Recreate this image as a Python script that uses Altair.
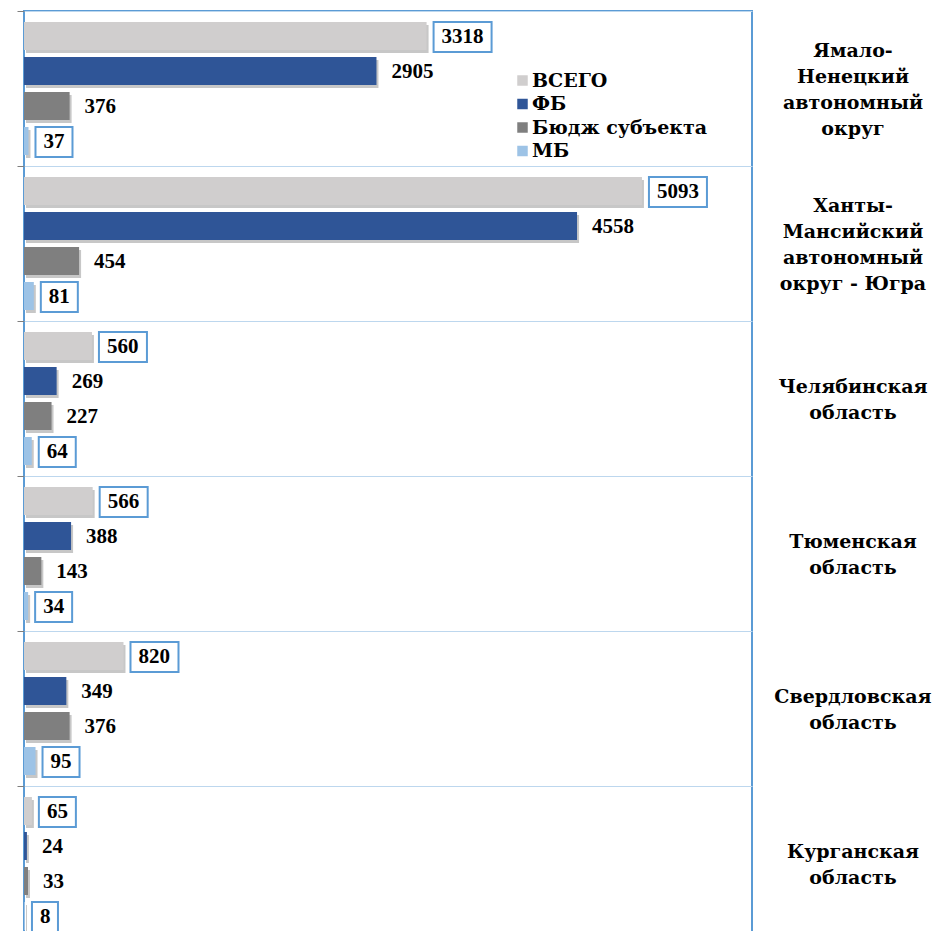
import altair as alt
import pandas as pd

regions = ["Ямало-Ненецкий автономный округ", "Ханты-Мансийский автономный округ - Югра",
           "Челябинская область", "Тюменская область", "Свердловская область", "Курганская область"]
region_labels = ["Ямало-\nНенецкий\nавтономный\nокруг", "Ханты-\nМансийский\nавтономный\nокруг - Югра",
                 "Челябинская\nобласть", "Тюменская\nобласть", "Свердловская\nобласть", "Курганская\nобласть"]
series = ["ВСЕГО", "ФБ", "Бюдж субъекта", "МБ"]
colors = ["#D0CECE", "#2F5597", "#7F7F7F", "#9DC3E6"]
vsego = [3318, 5093, 560, 566, 820, 65]
fb = [2905, 4558, 269, 388, 349, 24]
budg = [376, 454, 227, 143, 376, 33]
mb = [37, 81, 64, 34, 95, 8]
boxed = ["ВСЕГО", "МБ"]

rows = []
for i, r in enumerate(regions):
    for s, vals in zip(series, [vsego, fb, budg, mb]):
        v = vals[i]
        n = len(str(v))
        w = round(16 + 10.5 * n)
        rows.append({"region": r, "series": s, "value": v,
                     "box": f"M7,-14H{7 + w}V16H7Z", "boxed": s in boxed})
df = pd.DataFrame(rows)
lab_df = pd.DataFrame({"region": regions, "label": region_labels,
                       "lines": [l.count("\n") + 1 for l in region_labels]})

W, H = 728, 930
font = "Liberation Serif, Times New Roman, serif"
wide_font = "DejaVu Serif, serif"

xs = alt.Scale(domain=[0, 6000], range=[0, W], nice=False, zero=True)
ys = alt.Scale(domain=regions, paddingInner=0, paddingOuter=0, range=[0, H])
yos = alt.Scale(domain=series, paddingInner=0.2, paddingOuter=0.314)
xs_sh = alt.Scale(domain=[0, 6000], range=[2, W + 2], nice=False, zero=True)
ys_sh = alt.Scale(domain=regions, paddingInner=0, paddingOuter=0, range=[3, H + 3])

base = alt.Chart(df)

shadow = base.mark_bar(color="#000000", opacity=0.22).encode(
    x=alt.X("value:Q", scale=xs_sh, axis=None),
    y=alt.Y("region:N", scale=ys_sh, axis=None, sort=regions),
    yOffset=alt.YOffset("series:N", scale=yos, sort=series),
)

bars = base.mark_bar().encode(
    x=alt.X("value:Q", scale=xs, axis=None),
    y=alt.Y("region:N", scale=ys, sort=regions,
            axis=alt.Axis(title=None, labels=False, domain=False, ticks=True, tickSize=7,
                          tickColor="#7F7F7F", tickWidth=1, bandPosition=0,
                          grid=True, gridColor="#BDD7EE", gridWidth=1)),
    yOffset=alt.YOffset("series:N", scale=yos, sort=series),
    color=alt.Color("series:N", scale=alt.Scale(domain=series, range=colors),
                    legend=alt.Legend(title=None, orient="none", legendX=489, legendY=60,
                                      symbolType="square", symbolSize=110, symbolStrokeWidth=0,
                                      labelFont=wide_font, labelFontSize=19, labelFontWeight="bold",
                                      labelColor="#000000", rowPadding=3.5, labelOffset=0, padding=0,
                                      labelLimit=400,
                                      labelExpr="datum.label == 'МБ' ? '\u00a0МБ' : datum.label")),
)

boxes = base.transform_filter("datum.boxed").mark_point(
    filled=False, stroke="#5B9BD5", strokeWidth=2, opacity=1, fill="#ffffff", fillOpacity=1
).encode(
    x=alt.X("value:Q", scale=xs, axis=None),
    y=alt.Y("region:N", scale=ys, axis=None, sort=regions),
    yOffset=alt.YOffset("series:N", scale=yos, sort=series),
    shape=alt.Shape("box:N", scale=None),
    size=alt.value(4),
)

texts = base.mark_text(align="left", baseline="middle", dx=15, dy=1, font=font,
                       fontSize=21, fontWeight="bold", color="#000000").encode(
    x=alt.X("value:Q", scale=xs, axis=None),
    y=alt.Y("region:N", scale=ys, axis=None, sort=regions),
    yOffset=alt.YOffset("series:N", scale=yos, sort=series),
    text=alt.Text("value:Q"),
)


def region_text(nlines):
    return alt.Chart(lab_df).transform_filter(f"datum.lines == {nlines}").mark_text(
        align="center", baseline="middle", lineBreak="\n", font=wide_font, fontSize=19,
        fontWeight="bold", lineHeight=26, color="#000000", dy=-(nlines - 1) * 13 + 1
    ).encode(
        x=alt.value(829),
        y=alt.Y("region:N", scale=ys, axis=None, sort=regions),
        text="label:N",
    )


chart = alt.layer(shadow, bars, boxes, texts, region_text(4), region_text(2)).resolve_scale(
    x="independent", y="independent"
).properties(
    width=W, height=H,
    autosize=alt.AutoSizeParams(type="none"),
    padding={"left": 16, "top": 3, "right": 186, "bottom": 0},
).configure_view(stroke="#5B9BD5", strokeWidth=2)

chart.save("out.html", embed_options={"renderer": "svg", "actions": False})
